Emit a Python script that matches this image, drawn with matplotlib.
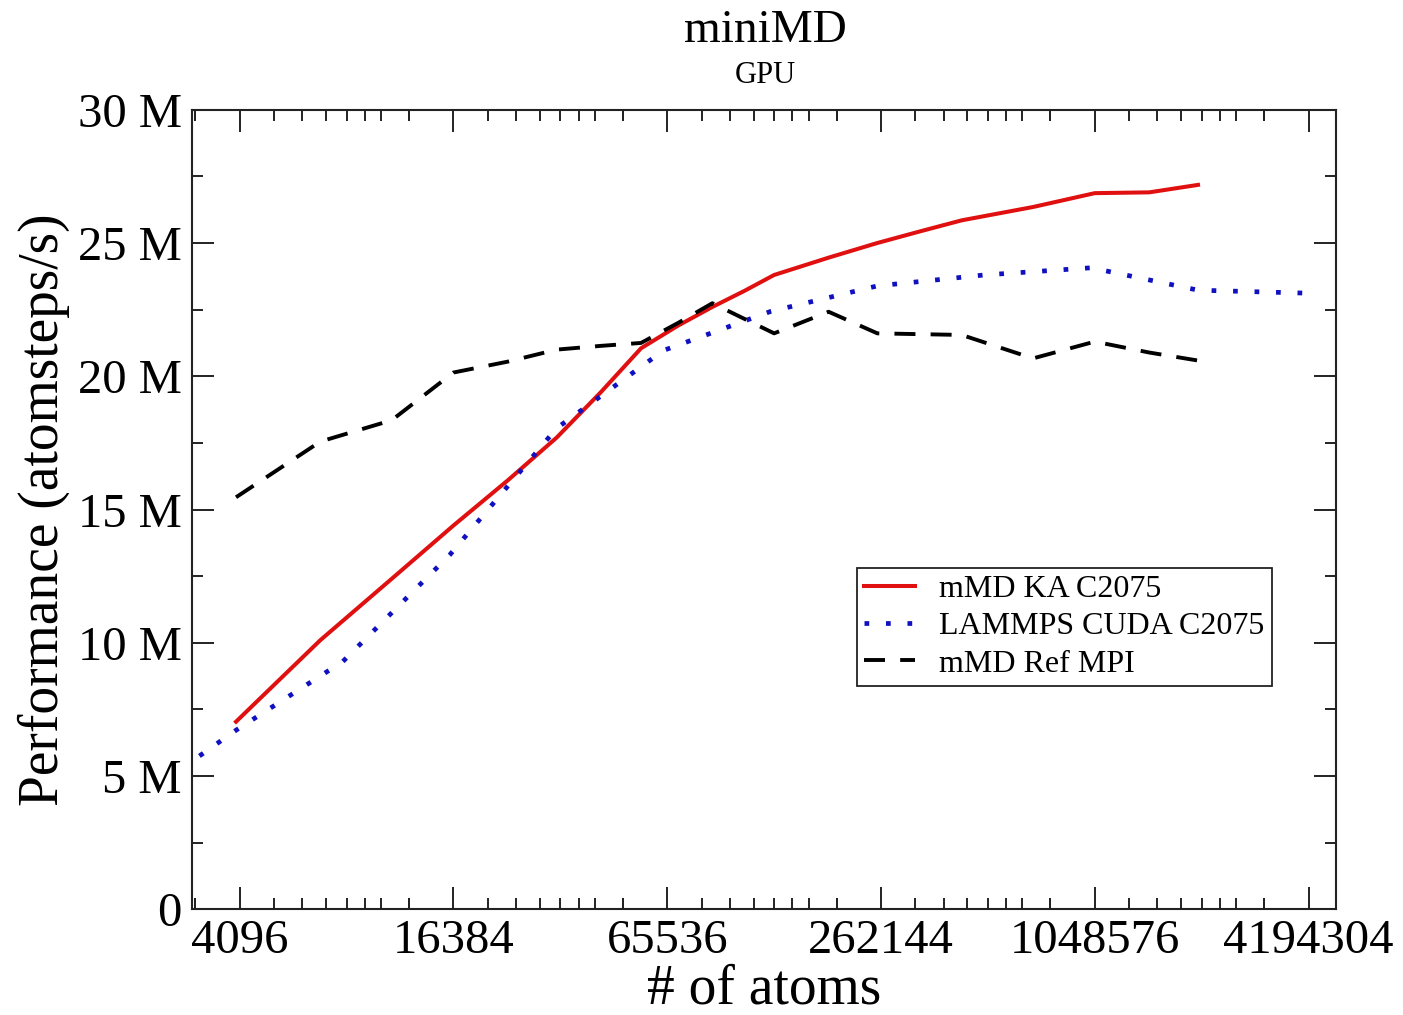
import matplotlib.pyplot as plt
from matplotlib.ticker import FixedLocator, FixedFormatter

# atom counts and performance (millions of atomsteps per second)
ka_atoms = [4000, 6912, 10976, 16384, 23328, 32000, 42592, 55296, 70304, 87808,
            108000, 131072, 186624, 256000, 340736, 442368, 702464, 1048576,
            1492992, 2048000]
ka_perf = [7.04, 10.1, 12.4, 14.4, 16.1, 17.7, 19.4, 21.05, 21.9, 22.6,
           23.2, 23.8, 24.45, 25.0, 25.45, 25.85, 26.35, 26.87, 26.9, 27.18]

lammps_atoms = [2000, 4000, 8000, 16000, 32000, 64000, 128000, 256000, 512000,
                1024000, 2048000, 4096000]
lammps_perf = [3.9, 6.72, 9.3, 13.3, 18.05, 20.97, 22.43, 23.39, 23.8,
               24.07, 23.23, 23.12]

ref_atoms = [4000, 6912, 10976, 16384, 23328, 32000, 42592, 55296, 70304, 87808,
             131072, 186624, 256000, 442368, 702464, 1048576, 1492992, 2048000]
ref_perf = [15.46, 17.55, 18.35, 20.14, 20.55, 21.0, 21.14, 21.25, 22.0, 22.74,
            21.61, 22.42, 21.61, 21.55, 20.67, 21.3, 20.89, 20.59]

x_major = [4096, 16384, 65536, 262144, 1048576, 4194304]
x_minor_steps = [0.75, 1.25, 1.5, 1.75, 2, 2.25, 2.5, 3]
y_major = [0, 5, 10, 15, 20, 25, 30]
y_labels = ["0", "5 M", "10 M", "15 M", "20 M", "25 M", "30 M"]

plt.rcParams['font.family'] = ['Liberation Serif', 'DejaVu Serif']

fig = plt.figure(figsize=(14.03, 10.15), dpi=100)
ax = fig.add_axes([0.1366, 0.1041, 0.8154, 0.7878])

ax.plot(ka_atoms, ka_perf, color='#e01010', lw=2.9, label='mMD KA C2075')
ax.plot(lammps_atoms, lammps_perf, color='#1010c0', lw=3.4,
        ls=(0, (1.0, 3.55)), dash_capstyle='butt', label='LAMMPS CUDA C2075')
ax.plot(ref_atoms, ref_perf, color='black', lw=2.8,
        ls=(0, (5.4, 3.9)), dash_capstyle='butt', label='mMD Ref MPI')

ax.set_xscale('log', base=2)
ax.set_xlim(3000, 5.0e6)
ax.set_ylim(0, 30)

minor = [m * f for m in [1024] + x_major for f in x_minor_steps]
minor = [t for t in minor if 3000 < t < 5.0e6 and t not in x_major]
ax.xaxis.set_major_locator(FixedLocator(x_major))
ax.xaxis.set_major_formatter(FixedFormatter([str(v) for v in x_major]))
ax.xaxis.set_minor_locator(FixedLocator(minor))
ax.xaxis.set_minor_formatter(FixedFormatter([''] * len(minor)))

ax.yaxis.set_major_locator(FixedLocator(y_major))
ax.yaxis.set_major_formatter(FixedFormatter(y_labels))
ax.yaxis.set_minor_locator(FixedLocator([2.5, 7.5, 12.5, 17.5, 22.5, 27.5]))

ax.tick_params(which='both', direction='in', top=True, right=True,
               width=1.4, color='#222222')
ax.tick_params(which='major', length=15.5, labelsize=35, pad=7)
ax.tick_params(which='minor', length=7.8)
for sp in ax.spines.values():
    sp.set_linewidth(1.5)
    sp.set_color('#222222')

ax.set_xlabel('# of atoms', fontsize=40, labelpad=0)
ax.set_ylabel('Performance (atomsteps/s)', fontsize=40, labelpad=6)

fig.text(0.5455, 0.970, 'miniMD', ha='center', va='center', fontsize=34)
fig.text(0.5455, 0.926, 'GPU', ha='center', va='center', fontsize=22)

leg = ax.legend(loc='upper left', bbox_to_anchor=(0.5816, 0.4268),
                fontsize=23, frameon=True, fancybox=False, framealpha=1,
                edgecolor='#222222', handlelength=1.6, handletextpad=0.75,
                labelspacing=0.24, borderpad=0.22, borderaxespad=0)
leg.get_frame().set_linewidth(1.3)

fig.savefig('out.png', dpi=100)
